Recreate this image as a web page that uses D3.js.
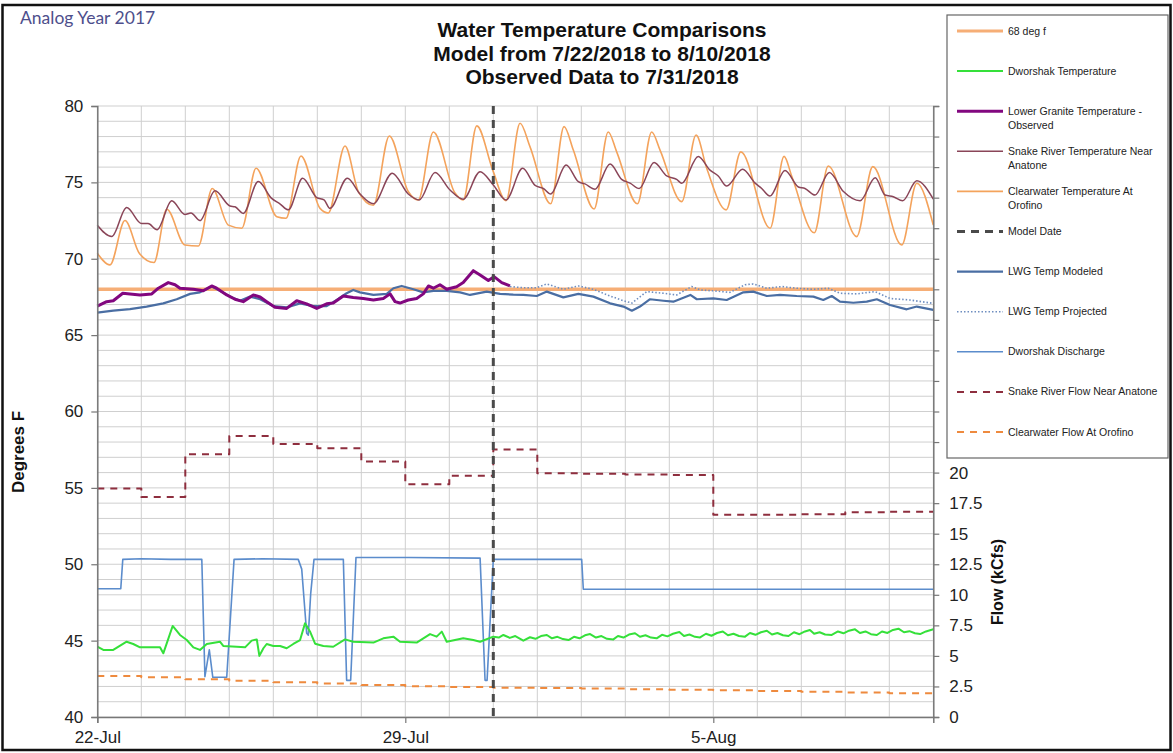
<!DOCTYPE html>
<html><head><meta charset="utf-8">
<script src="https://cdn.jsdelivr.net/npm/d3@7"></script>
<style>body{margin:0;background:#fff}svg{font-family:"Liberation Sans",Arial,sans-serif}</style>
</head><body>
<svg id="c" width="1173" height="753"></svg>
<script>
// ---------------- DATA ----------------
const startDate = "2018-07-22T00:00:00Z";
const endDate = "2018-08-10T00:00:00Z";
const modelDate = "2018-07-31T00:00:00Z";
const dateTickLabels = ["2018-07-22T00:00:00Z", "2018-07-29T00:00:00Z", "2018-08-05T00:00:00Z"];
const tempTicks = [40, 45, 50, 55, 60, 65, 70, 75, 80];
const flowTicks = [0, 2.5, 5, 7.5, 10, 12.5, 15, 17.5, 20, 22.5, 25, 27.5, 30, 32.5, 35, 37.5, 40, 42.5, 45, 47.5, 50];
const thresholdTemp = 68;

// [hours since 22-Jul 00:00, deg F]
const snakeTemp = [[0,72.2],[7.9,71.45],[16,73.35],[24.2,72.3],[27.7,72.3],[32.6,71.9],[40.6,73.8],[47.8,72.9],[51.1,73.0],[56,72.5],[64.2,74.45],[72.4,73.45],[75.1,73.4],[79.6,72.97],[87.8,75.05],[95.1,73.95],[99.6,73.6],[104.2,73.2],[112,75.27],[119.7,74.0],[123.7,73.85],[126.9,73.3],[136.4,75.27],[143.3,74.24],[150.6,73.6],[160.9,75.6],[169.6,74.24],[175.6,73.85],[184.2,75.64],[192.4,74.5],[199.6,73.9],[208.8,75.7],[216,74.83],[222.9,73.85],[232,75.92],[238.8,74.8],[243.3,74.6],[247.3,74.24],[255.7,76.14],[262.4,75.05],[266,74.9],[271.5,74.55],[279.7,76.2],[286,75.2],[290.6,74.95],[295.6,74.6],[303.7,76.3],[310.6,75.42],[316,75.2],[318.8,74.94],[327.8,76.7],[334.2,75.8],[338.7,75.42],[343.3,74.76],[352,75.86],[358.8,74.95],[362.4,74.6],[366.9,74.1],[375.1,75.77],[382.4,74.7],[386,74.6],[391.5,74.17],[399.3,75.64],[407,74.4],[416.1,73.8],[424.3,75.3],[429.7,74.17],[434.2,74.06],[439.3,73.8],[447,75.1],[456,73.9]];

const clearwaterTemp = [[0,70.36],[6.9,69.6],[15.1,72.5],[22.9,70.36],[30.9,69.75],[37.9,73.24],[47.8,70.9],[55.1,70.83],[62.7,74.6],[71.5,72.2],[78.8,72.0],[86.6,75.92],[97.9,72.75],[102.9,72.65],[111.1,76.73],[121.5,73.3],[126,73.0],[135.1,77.38],[142.4,74.4],[150.6,73.5],[159.3,78.04],[169.6,74.4],[175.1,73.85],[183.3,78.3],[195.1,74.3],[199.6,73.85],[207,78.7],[215.7,75.8],[222.9,73.8],[230.6,78.87],[236,77.34],[247.3,73.6],[254.6,78.65],[259.7,77.1],[271,73.26],[278.7,78.3],[283.3,77.0],[294.6,73.6],[302.4,78.3],[307,77.1],[318.8,73.74],[326.6,78.1],[332.4,75.92],[343,73.2],[351,77.0],[367,72.0],[374.6,76.7],[378.8,75.4],[391.1,71.7],[398.7,76.07],[414.2,71.45],[423,76.03],[438.8,70.9],[447,74.94],[456,72.2]];

const lowerGraniteObs = [[0,66.9],[5.1,67.19],[8.7,67.25],[13.9,67.74],[17.8,67.7],[23.3,67.63],[29.7,67.7],[33.3,68.07],[38.7,68.44],[42.4,68.3],[45.1,68.07],[52.4,68.0],[57.8,67.9],[62.4,68.22],[65.1,68.07],[70.6,67.63],[75.1,67.35],[79.6,67.19],[85.1,67.63],[88.8,67.5],[92.4,67.19],[96.9,66.82],[103.3,66.75],[108.8,67.25],[114.2,67.05],[119.7,66.75],[125.1,67.05],[128.7,67.1],[134.2,67.56],[139.6,67.47],[145.1,67.4],[150.6,67.3],[156,67.4],[159.7,67.7],[162.4,67.19],[165.1,67.1],[169.6,67.3],[174.2,67.4],[177.8,67.7],[180.6,68.22],[183.3,68.07],[186.9,68.3],[190.6,68.0],[196,68.17],[199.6,68.44],[205.1,69.22],[208.8,68.94],[213.3,68.57],[216.4,68.83],[220.6,68.44],[225.1,68.22]];

const lwgModeled = [[0,66.47],[8.7,66.6],[17.8,66.7],[26.9,66.87],[36,67.08],[43.3,67.35],[50.6,67.7],[56,67.8],[62.4,68.18],[66.9,67.9],[72.4,67.52],[77.8,67.25],[83.3,67.52],[88.8,67.35],[96,66.9],[103.3,66.82],[110.6,67.08],[117.8,66.9],[125.1,66.9],[130.6,67.3],[136,67.74],[139.6,67.96],[143.3,67.8],[150.6,67.63],[157.9,67.7],[161.5,68.07],[166,68.22],[172.4,68.0],[177.8,67.8],[183.3,67.9],[190.6,67.9],[197.9,67.8],[203.3,67.63],[212.4,67.85],[219.7,67.7],[226.9,67.65],[232.4,67.63],[239.7,67.56],[245.2,67.85],[254.2,67.47],[262.4,67.7],[270.6,67.52],[279.7,67.08],[287,66.87],[291.6,66.6],[296,66.87],[301.5,67.35],[308.8,67.25],[314.2,67.19],[323.5,67.63],[327,67.35],[336,67.4],[343.3,67.3],[352.4,67.8],[357.8,67.85],[365.2,67.56],[372.4,67.63],[381.5,67.56],[390.6,67.52],[396,67.3],[400.6,67.56],[405.1,67.19],[412.4,67.12],[419.7,67.19],[425.2,67.35],[432.4,66.97],[441.5,66.69],[447,66.87],[456,66.65]];

const lwgProjected = [[225.1,68.18],[232.4,68.1],[239.7,68.1],[245.2,68.35],[254.2,68.0],[262.4,68.22],[270.6,68.0],[279.7,67.56],[287,67.25],[291.6,67.1],[299.7,67.85],[308.8,67.74],[316,67.63],[324.2,68.18],[328.8,67.96],[336,67.9],[345.1,67.8],[353.3,68.3],[357.8,68.35],[365.2,68.07],[373.3,68.18],[381.5,68.07],[390.6,68.0],[398.7,68.07],[405.1,67.74],[414.2,67.7],[424.2,67.85],[432.4,67.4],[443.3,67.3],[456,67.08]];

const dworshakTemp = [[0,44.6],[3.3,44.39],[8.7,44.39],[16,44.93],[19.6,44.78],[23.3,44.56],[34.2,44.56],[36,44.17],[38.2,44.93],[41.1,45.96],[45.1,45.37],[48.8,45.04],[52.4,44.56],[56,44.39],[59.7,44.78],[66.9,44.93],[68.7,44.65],[76,44.6],[80.6,44.56],[84.2,45.0],[87,45.08],[88.4,44.0],[90.6,44.5],[92.4,44.78],[96,44.65],[99.7,44.65],[103.3,44.5],[106.9,44.78],[110.6,45.04],[113.3,46.13],[116,45.6],[118.8,44.8],[123.3,44.65],[128.7,44.6],[135.1,45.08],[139.6,44.93],[150.6,44.87],[156,45.15],[161.5,45.26],[165.1,44.93],[174.2,44.87],[181.5,45.43],[185.1,45.26],[187.9,45.59],[190.6,44.93],[199.6,45.15],[205.1,45.04],[208.8,44.93],[216,45.26],[219,45.2],[221.5,45.37],[225,45.18],[228,45.3],[232.4,45.0],[236,45.22],[239,45.12],[242,45.3],[245.2,45.37],[248,45.15],[251,45.25],[254,45.1],[257,45.04],[260,45.25],[263,45.15],[266,45.35],[268.8,45.43],[272,45.2],[275,45.3],[278,45.12],[281.5,45.08],[284,45.3],[287,45.2],[290,45.4],[293.3,45.48],[296,45.25],[299,45.35],[302,45.2],[305.1,45.15],[308,45.38],[311,45.28],[314,45.45],[317.5,45.56],[320,45.3],[323,45.4],[326,45.25],[328.8,45.21],[332,45.45],[335,45.32],[338,45.5],[341.2,45.6],[344,45.35],[347,45.45],[350,45.3],[353.3,45.26],[356,45.5],[359,45.38],[362,45.55],[365.2,45.65],[368,45.4],[371,45.5],[374,45.35],[377,45.3],[380,45.55],[383,45.42],[386,45.6],[388.7,45.7],[391,45.45],[394,45.55],[397,45.4],[400.6,45.37],[404,45.6],[407,45.48],[410,45.65],[413.3,45.74],[416,45.5],[419,45.6],[422,45.42],[425.2,45.37],[428,45.6],[431,45.5],[434,45.7],[437,45.78],[440,45.55],[443,45.62],[446,45.48],[448.8,45.43],[452,45.6],[456,45.74]];

// [hours since 22-Jul 00:00, kcfs]
const dworshakDischarge = [[0,10.5],[12.8,10.5],[13.9,12.9],[24,12.95],[40,12.9],[57,12.9],[58.7,3.3],[61.1,5.5],[63,3.25],[70.6,3.25],[74.6,12.9],[90,12.95],[109.6,12.9],[111.5,12.1],[114.2,6.85],[115.1,6.7],[116.4,10.1],[118.2,12.9],[134.2,12.9],[136,3.0],[138.2,3.0],[141.1,13.05],[170,13.05],[208.8,13.0],[211.5,3.0],[212.6,3.0],[216,12.9],[264.2,12.9],[265.1,10.45],[456,10.45]];

// daily values (one per day, 22-Jul .. 9-Aug), kcfs
const snakeFlowDaily = [18.7, 18.0, 21.5, 23.0, 22.35, 22.0, 20.9, 19.05, 19.75, 21.9, 19.95, 19.9, 19.85, 19.8, 16.55, 16.55, 16.6, 16.75, 16.8];
const clearwaterFlowDaily = [3.36, 3.25, 3.08, 2.97, 2.85, 2.75, 2.62, 2.52, 2.45, 2.4, 2.37, 2.33, 2.28, 2.24, 2.18, 2.12, 2.06, 2.0, 1.95];

const legendNames = ["68 deg f", "Dworshak Temperature", "Lower Granite Temperature - Observed", "Snake River Temperature Near Anatone", "Clearwater Temperature At Orofino", "Model Date", "LWG Temp Modeled", "LWG Temp Projected", "Dworshak Discharge", "Snake River Flow Near Anatone", "Clearwater Flow At Orofino"];

// ---------------- CHART ----------------
const svg = d3.select("#c");
const M = {l: 97.3, r: 933.3, t: 106, b: 717};
const t0 = new Date(startDate), t1 = new Date(endDate);
const hr = h => new Date(t0.getTime() + h * 3600e3);
const x = d3.scaleUtc().domain([t0, t1]).range([M.l, M.r]);
const yT = d3.scaleLinear().domain([40, 80]).range([M.b, M.t]);
const yF = d3.scaleLinear().domain([0, 50]).range([M.b, M.t]);

const styles = [
  {c:"#F6AE76", w:3.5, d:null},
  {c:"#35E03A", w:2, d:null},
  {c:"#82077F", w:3, d:null},
  {c:"#8A4558", w:1.5, d:null},
  {c:"#F4A35C", w:1.6, d:null},
  {c:"#4a4a4a", w:3, d:"8,6"},
  {c:"#4A6EA3", w:2.2, d:null},
  {c:"#6F8EC0", w:1.6, d:"1.5,2"},
  {c:"#5B8CCC", w:1.6, d:null},
  {c:"#8E2E3E", w:2, d:"7,6"},
  {c:"#EE8A3E", w:2, d:"7,6"}
];

// outer frame
svg.append("rect").attr("x",2.5).attr("y",5).attr("width",1168).attr("height",745)
  .attr("fill","none").attr("stroke","#111").attr("stroke-width",2.5);

// gridlines
const g = svg.append("g");
g.selectAll(".hg").data(d3.range(40, 81, 1)).join("line")
  .attr("x1", M.l).attr("x2", M.r).attr("y1", d => yT(d)).attr("y2", d => yT(d))
  .attr("stroke", "#cfcfcf").attr("stroke-width", 1);
g.selectAll(".vg").data(d3.utcDay.range(t0, d3.utcDay.offset(t1,1))).join("line")
  .attr("x1", d => x(d)).attr("x2", d => x(d)).attr("y1", M.t).attr("y2", M.b)
  .attr("stroke", "#cfcfcf").attr("stroke-width", 1);

function path(data, yS, st, curve) {
  svg.append("path").datum(data)
    .attr("d", d3.line().x(d => x(hr(d[0]))).y(d => yS(d[1])).curve(curve || d3.curveLinear))
    .attr("fill","none").attr("stroke", st.c).attr("stroke-width", st.w)
    .attr("stroke-dasharray", st.d).attr("stroke-linejoin","round");
}
const daily = arr => arr.map((v,i) => [i*24, v]).concat([[arr.length*24, arr[arr.length-1]]]);

path([[0,thresholdTemp],[456,thresholdTemp]], yT, styles[0]);
path(dworshakDischarge, yF, styles[8]);
path(daily(snakeFlowDaily), yF, styles[9], d3.curveStepAfter);
path(daily(clearwaterFlowDaily), yF, styles[10], d3.curveStepAfter);
path(dworshakTemp, yT, styles[1]);
path(clearwaterTemp, yT, styles[4], d3.curveMonotoneX);
path(snakeTemp, yT, styles[3], d3.curveMonotoneX);
path(lwgProjected, yT, styles[7]);
path(lwgModeled, yT, styles[6]);
path(lowerGraniteObs, yT, styles[2]);

// model date line
const md = new Date(modelDate);
svg.append("line").attr("x1", x(md)).attr("x2", x(md)).attr("y1", M.t).attr("y2", M.b + 2)
  .attr("stroke", styles[5].c).attr("stroke-width", styles[5].w).attr("stroke-dasharray", styles[5].d);

// axes
const fs = "17px";
const axL = svg.append("g").attr("transform", `translate(${M.l},0)`)
  .call(d3.axisLeft(yT).tickValues(tempTicks).tickSize(6).tickPadding(8));
const axR = svg.append("g").attr("transform", `translate(${M.r},0)`)
  .call(d3.axisRight(yF).tickValues(flowTicks).tickSize(6).tickPadding(10).tickFormat(d => d3.format("~g")(d)));
const axB = svg.append("g").attr("transform", `translate(0,${M.b})`)
  .call(d3.axisBottom(x).tickValues(dateTickLabels.map(d => new Date(d))).tickSize(6).tickPadding(8)
    .tickFormat(d3.utcFormat("%-d-%b")));
[axL, axR, axB].forEach(a => {
  a.select(".domain").attr("stroke", "#777").attr("stroke-width", 1.5);
  a.selectAll(".tick line").attr("stroke", "#777").attr("stroke-width", 1.2);
  a.selectAll("text").attr("font-size", fs).attr("fill", "#222").attr("font-family", '"Liberation Sans",Arial,sans-serif');
});

// axis titles
svg.append("text").attr("transform", "translate(24,452) rotate(-90)").attr("text-anchor","middle")
  .attr("font-size", "17px").attr("font-weight", "bold").attr("fill","#111").text("Degrees F");
svg.append("text").attr("transform", "translate(1003,582) rotate(-90)").attr("text-anchor","middle")
  .attr("font-size", "16px").attr("font-weight", "bold").attr("fill","#111").text("Flow (kCfs)");

// titles
const titles = ["Water Temperature Comparisons", "Model from 7/22/2018 to 8/10/2018", "Observed Data to 7/31/2018"];
svg.selectAll(".title").data(titles).join("text")
  .attr("x", 602).attr("y", (d,i) => 37 + i*23.5).attr("text-anchor","middle")
  .attr("font-size","21px").attr("font-weight","bold").attr("fill","#111").text(d => d);
svg.append("text").attr("x", 20).attr("y", 24).attr("font-family","Lato, 'Open Sans', sans-serif")
  .attr("font-size","17.5px").attr("fill","#4E4F8C").text("Analog Year 2017");

// legend
const lg = svg.append("g");
lg.append("rect").attr("x", 947).attr("y", 15).attr("width", 221).attr("height", 443)
  .attr("fill","#fff").attr("stroke","#666").attr("stroke-width",1.2);
const wrapAt = {2: ["Lower Granite Temperature -", "Observed"], 3: ["Snake River Temperature Near", "Anatone"], 4: ["Clearwater Temperature At", "Orofino"]};
legendNames.forEach((name, i) => {
  const yy = 31 + i * 40.1;
  const st = styles[i];
  lg.append("line").attr("x1", 957).attr("x2", 1003).attr("y1", yy).attr("y2", yy)
    .attr("stroke", st.c).attr("stroke-width", Math.min(st.w, 3)).attr("stroke-dasharray", st.d);
  const lines = wrapAt[i] || [name];
  lines.forEach((t, j) => {
    lg.append("text").attr("x", 1008).attr("y", yy + 3.5 + j * 14).attr("font-size", "10.5px")
      .attr("fill", "#222").text(t);
  });
});
</script>
</body></html>
